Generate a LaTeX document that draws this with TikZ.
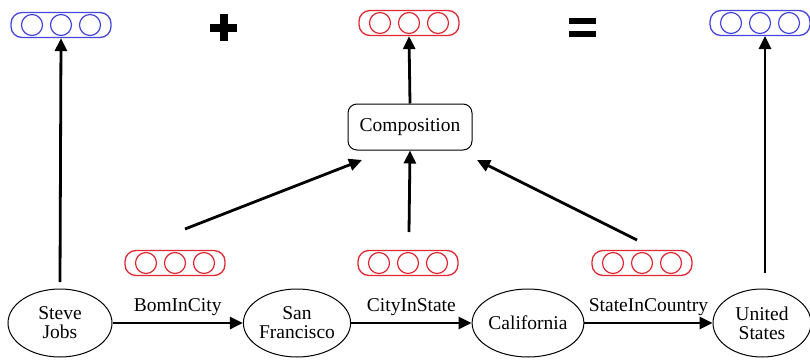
\documentclass[tikz,border=0pt]{standalone}
\usepackage{fontspec}
\setmainfont{Liberation Serif}
\usetikzlibrary{arrows.meta,shapes.geometric,calc}
\definecolor{vblue}{RGB}{70,70,220}
\definecolor{vred}{RGB}{225,40,50}
\tikzset{
  ent/.style={draw, ellipse, line width=1pt, minimum width=104pt, minimum height=68pt, inner sep=0pt, align=center, font=\fontsize{19.5}{20}\selectfont},
  rel/.style={font=\fontsize{19.5}{20}\selectfont},
  comp/.style={draw, rounded corners=9pt, line width=1pt, minimum width=124pt, minimum height=46pt, font=\fontsize{19.5}{20}\selectfont},
  vecbox/.style={draw, rounded corners=11pt, line width=1.3pt, minimum width=100pt, minimum height=25pt, inner sep=0pt},
  arr/.style={line width=2.8pt, -{Triangle[length=13pt,width=12pt]}},
}
\newcommand{\vecnode}[3]{%
  \node[vecbox, draw=#3] (#1) at (#2) {};
  \draw[#3, line width=1.2pt] ($(#1)+(-29,0)$) circle (10.5);
  \draw[#3, line width=1.2pt] (#1) circle (10.5);
  \draw[#3, line width=1.2pt] ($(#1)+(29,0)$) circle (10.5);
}
\begin{document}
\begin{tikzpicture}[x=1pt,y=-1pt]
\useasboundingbox (0,0) rectangle (810,359);
% entities
\node[ent] (sj) at (60,323) {Steve\\[-1pt]Jobs};
\node[ent] (sf) at (297,323) {San\\[-1pt]Francisco};
\node[ent] (ca) at (528,323) {California};
\node[ent, minimum width=98pt] (us) at (762,323) {United\\[-1pt]States};
% relation arrows
\draw[arr] (sj) -- (sf) node[rel, midway, above=3pt] (l1) {BomInCity};
\draw[arr] (sf) -- (ca) node[rel, midway, above=3pt] (l2) {CityInState};
\draw[arr] (ca) -- (us) node[rel, midway, above=3pt] (l3) {StateInCountry};
% vectors
\vecnode{v1}{175,263}{vred}
\vecnode{v2}{408,263}{vred}
\vecnode{v3}{642,263}{vred}
\vecnode{top}{409,23}{vred}
\vecnode{tl}{61,25}{vblue}
\vecnode{tr}{760,23}{vblue}
% composition
\node[comp] (cmp) at (410,127) {Composition};
\coordinate (a1s) at (185,229);
\coordinate (a3s) at (637,240);
\coordinate (a1e) at (362,160);
\coordinate (a3e) at (477,160);
\coordinate (a2s) at (409,232);
\draw[arr] (a1s) -- (a1e);
\draw[arr] (a2s) -- (cmp.south);
\draw[arr] (a3s) -- (a3e);
\draw[arr] (cmp.north) -- (top.south);
\coordinate (sjt) at (60,282);
\draw[arr] (sjt) -- (tl.south);
\coordinate (ust) at (765,273);
\coordinate (use) at (765,36);
\draw[arr] (ust) -- (use);
% plus and equals
\fill (210,23.5) rectangle (237,31.5);
\fill (219.5,14) rectangle (227.5,41);
\fill (569,18) rectangle (596,24);
\fill (569,31) rectangle (596,37);
\end{tikzpicture}
\end{document}
